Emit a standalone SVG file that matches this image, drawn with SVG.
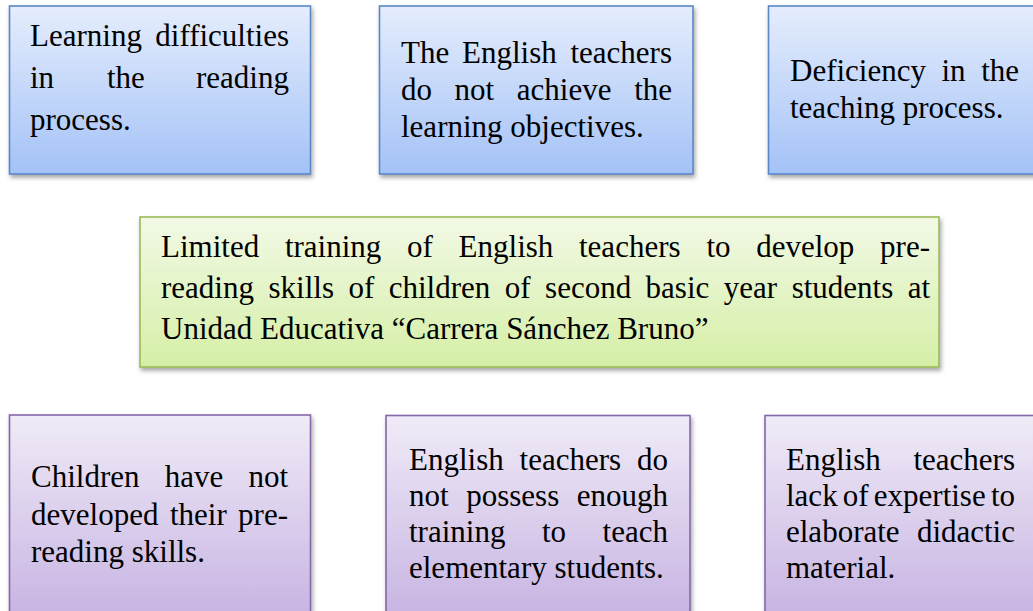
<svg xmlns="http://www.w3.org/2000/svg" width="1033" height="611" viewBox="0 0 1033 611" font-family="Liberation Serif, serif" font-size="31">
<defs>
<linearGradient id="gBlue" x1="0" y1="0" x2="0" y2="1"><stop offset="0" stop-color="#E5EDFC"/><stop offset="1" stop-color="#A4C2F7"/></linearGradient>
<linearGradient id="gGreen" x1="0" y1="0" x2="0" y2="1"><stop offset="0" stop-color="#F2F9E6"/><stop offset="1" stop-color="#D5EFA6"/></linearGradient>
<linearGradient id="gPurple" x1="0" y1="0" x2="0" y2="1"><stop offset="0" stop-color="#F0EBF7"/><stop offset="1" stop-color="#C4B0E1"/></linearGradient>
<filter id="sh" x="-10%" y="-10%" width="120%" height="130%"><feDropShadow dx="1.5" dy="3" stdDeviation="2" flood-color="#000" flood-opacity="0.35"/></filter>
</defs>
<style>
.blue{fill:url(#gBlue);stroke:#5A87C8;stroke-width:1.6;filter:url(#sh)}
.green{fill:url(#gGreen);stroke:#9BBB59;stroke-width:1.6;filter:url(#sh)}
.purple{fill:url(#gPurple);stroke:#8468A8;stroke-width:1.6;filter:url(#sh)}
.e{text-anchor:end}
</style>
<rect width="1033" height="611" fill="#fff"/>
<g id="connectors"/>
<g id="effect1">
<rect class="blue" x="9.5" y="6" width="301" height="168"/>
<text x="30" y="46">Learning</text><text class="e" x="289" y="46">difficulties</text>
<text x="30" y="88">in</text><text x="107" y="88">the</text><text class="e" x="289" y="88">reading</text>
<text x="30" y="130">process.</text>
</g>
<g id="effect2">
<rect class="blue" x="379.5" y="6" width="313.5" height="168"/>
<text x="401" y="63">The</text><text x="462" y="63">English</text><text class="e" x="672" y="63">teachers</text>
<text x="401" y="100">do</text><text x="454.6" y="100">not</text><text x="516.8" y="100">achieve</text><text class="e" x="672" y="100">the</text>
<text x="401" y="137">learning objectives.</text>
</g>
<g id="effect3">
<rect class="blue" x="768.5" y="6" width="290" height="168"/>
<text x="790" y="81">Deficiency</text><text x="941.5" y="81">in</text><text class="e" x="1019" y="81">the</text>
<text x="790" y="118">teaching process.</text>
</g>
<g id="problem">
<rect class="green" x="140" y="217" width="799" height="150"/>
<text x="161" y="257">Limited</text><text x="284.9" y="257">training</text><text x="407.1" y="257">of</text><text x="458.6" y="257">English</text><text x="579" y="257">teachers</text><text x="706.4" y="257">to</text><text x="756.2" y="257">develop</text><text class="e" x="930" y="257">pre-</text>
<text x="161" y="298">reading</text><text x="268.5" y="298">skills</text><text x="348.4" y="298">of</text><text x="388.7" y="298">children</text><text x="504.8" y="298">of</text><text x="545.1" y="298">second</text><text x="645.6" y="298">basic</text><text x="723.8" y="298">year</text><text x="791.7" y="298">students</text><text class="e" x="930" y="298">at</text>
<text x="161" y="339">Unidad Educativa “Carrera Sánchez Bruno”</text>
</g>
<g id="cause1">
<rect class="purple" x="9.5" y="415" width="301" height="215"/>
<text x="31" y="487">Children</text><text x="164.7" y="487">have</text><text class="e" x="288" y="487">not</text>
<text x="31" y="525">developed</text><text x="170" y="525">their</text><text class="e" x="288" y="525">pre-</text>
<text x="31" y="562">reading skills.</text>
</g>
<g id="cause2">
<rect class="purple" x="386" y="415.5" width="304" height="215"/>
<text x="409" y="470">English</text><text x="519.6" y="470">teachers</text><text class="e" x="668" y="470">do</text>
<text x="409" y="506">not</text><text x="466.2" y="506">possess</text><text class="e" x="668" y="506">enough</text>
<text x="409" y="542">training</text><text x="542" y="542">to</text><text class="e" x="668" y="542">teach</text>
<text x="409" y="578">elementary students.</text>
</g>
<g id="cause3">
<rect class="purple" x="765" y="415.5" width="290" height="215"/>
<text x="786" y="470">English</text><text class="e" x="1015" y="470">teachers</text>
<text x="786" y="506">lack</text><text x="842.8" y="506">of</text><text x="873.8" y="506">expertise</text><text class="e" x="1015" y="506">to</text>
<text x="786" y="542">elaborate</text><text class="e" x="1015" y="542">didactic</text>
<text x="786" y="578">material.</text>
</g>
</svg>
